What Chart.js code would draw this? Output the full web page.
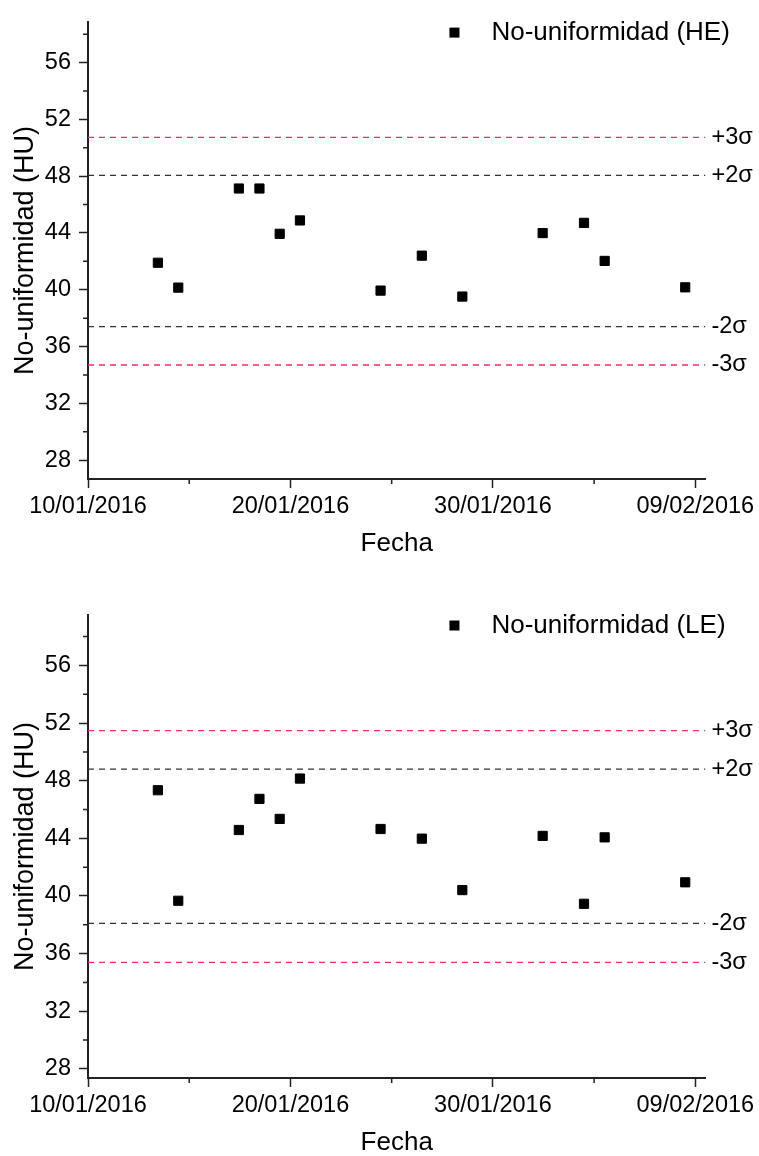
<!DOCTYPE html>
<html lang="es">
<head>
  <meta charset="UTF-8" />
  <title>No-uniformidad</title>
  <style>
    body { margin: 0; background: #fff; }
    .panel { position: relative; width: 759px; height: 578px; }
  </style>
</head>
<body>
  <div class="panel"><canvas id="chartHE"></canvas></div>
  <div class="panel"><canvas id="chartLE"></canvas></div>

  <script src="https://cdn.jsdelivr.net/npm/chart.js"></script>
  <script>
const fechas = [
  '2016-01-13T10:50', '2016-01-14T11:00', '2016-01-17T10:50', '2016-01-18T11:15',
  '2016-01-19T11:15', '2016-01-20T11:15', '2016-01-24T10:50', '2016-01-26T11:45',
  '2016-01-28T11:45', '2016-02-01T11:00', '2016-02-03T12:00', '2016-02-04T12:30',
  '2016-02-08T12:00'
];
const valoresHE = [41.9, 40.15, 47.13, 47.13, 43.94, 44.88, 39.94, 42.4, 39.52, 43.99, 44.71, 42.03, 40.17];
const valoresLE = [47.34, 39.67, 44.58, 46.74, 45.35, 48.15, 44.65, 43.98, 40.41, 44.17, 39.46, 44.07, 40.95];

// control limits: +3s, +2s, -2s, -3s
const limitesHE = [50.73, 48.05, 37.4, 34.7];
const limitesLE = [51.48, 48.8, 38.1, 35.39];
const sigmaLabels = ['+3\u03c3', '+2\u03c3', '-2\u03c3', '-3\u03c3'];
const sigmaColors = ['#ff2a62', '#333333', '#333333', '#ff2a62'];

const xTickLabels = ['10/01/2016', '20/01/2016', '30/01/2016', '09/02/2016'];
const yTickLabels = [28, 32, 36, 40, 44, 48, 52, 56];
const xMinorLabels = ['15/01/2016', '25/01/2016', '04/02/2016'];
const yMinorLabels = [30, 34, 38, 42, 46, 50, 54, 58];

const FONT = '"Liberation Sans", Arial, sans-serif';
const T0 = Date.UTC(2016, 0, 10);
const DAY = 86400000;

function isoToDays(s) {
  return (new Date(s + ':00Z').getTime() - T0) / DAY;
}
function labelToDays(s) {
  const [d, m, y] = s.split('/').map(Number);
  return (Date.UTC(y, m - 1, d) - T0) / DAY;
}
function daysToLabel(v) {
  const d = new Date(T0 + v * DAY);
  const p = n => String(n).padStart(2, '0');
  return p(d.getUTCDate()) + '/' + p(d.getUTCMonth() + 1) + '/' + d.getUTCFullYear();
}

const X_MAX = 30.5;

Chart.defaults.color = '#000';
Chart.defaults.font.family = FONT;

const extras = {
  id: 'extras',
  afterDraw(chart, args, opts) {
    const {ctx, chartArea: a, scales: {x, y}} = chart;
    ctx.save();
    // minor ticks
    ctx.strokeStyle = '#222';
    ctx.lineWidth = 1.5;
    ctx.beginPath();
    xMinorLabels.map(labelToDays).forEach(d => {
      const px = x.getPixelForValue(d);
      ctx.moveTo(px, a.bottom);
      ctx.lineTo(px, a.bottom + 5);
    });
    yMinorLabels.forEach(v => {
      if (v < y.min || v > y.max) return;
      const py = y.getPixelForValue(v);
      ctx.moveTo(a.left, py);
      ctx.lineTo(a.left - 5, py);
    });
    ctx.stroke();

    // sigma labels
    ctx.fillStyle = '#000';
    ctx.font = '23.5px ' + FONT;
    ctx.textAlign = 'left';
    ctx.textBaseline = 'middle';
    opts.limits.forEach((v, i) => {
      ctx.fillText(sigmaLabels[i], a.right + 6, y.getPixelForValue(v));
    });

    // legend
    const ly = a.top + 10.5;
    ctx.fillRect(a.right - 256, ly - 5, 10, 10);
    ctx.font = '26px ' + FONT;
    ctx.fillText(opts.legend, a.right - 214, ly);
    ctx.restore();
  }
};

function makeChart(id, values, limits, legend, yMin, yMax, padTop, padBottom) {
  const xs = fechas.map(isoToDays);
  const limitSets = limits.map((v, i) => ({
    type: 'line',
    data: [{x: 0, y: v}, {x: X_MAX, y: v}],
    borderColor: sigmaColors[i],
    borderWidth: 1.3,
    borderDash: [6, 5],
    pointRadius: 0,
    order: 2
  }));
  return new Chart(document.getElementById(id), {
    type: 'scatter',
    data: {
      datasets: [
        {
          label: legend,
          data: values.map((v, i) => ({x: xs[i], y: v})),
          pointStyle: 'rect',
          pointRadius: 6.5,
          backgroundColor: '#000',
          borderColor: '#000',
          borderWidth: 1,
          order: 1
        },
        ...limitSets
      ]
    },
    options: {
      responsive: true,
      maintainAspectRatio: false,
      animation: false,
      layout: { padding: { left: 12, right: 52, top: padTop, bottom: padBottom } },
      plugins: {
        legend: { display: false },
        tooltip: { enabled: false },
        extras: { limits: limits, legend: legend }
      },
      scales: {
        x: {
          type: 'linear',
          min: 0,
          max: X_MAX,
          afterBuildTicks: s => { s.ticks = xTickLabels.map(t => ({value: labelToDays(t)})); },
          afterFit: s => { s.height = 78; },
          ticks: {
            font: { size: 23.5 },
            padding: 4,
            maxRotation: 0,
            autoSkip: false,
            callback: v => daysToLabel(v)
          },
          grid: { drawOnChartArea: false, drawTicks: true, tickLength: 9, tickColor: '#222', tickWidth: 1.5 },
          border: { display: true, color: '#222', width: 2 },
          title: { display: true, text: 'Fecha', font: { size: 26, lineHeight: 1 }, padding: 0 }
        },
        y: {
          min: yMin,
          max: yMax,
          afterBuildTicks: s => { s.ticks = yTickLabels.map(v => ({value: v})); },
          afterFit: s => { s.width = 76; },
          ticks: { font: { size: 23.5 }, padding: 8 },
          grid: { drawOnChartArea: false, drawTicks: true, tickLength: 9, tickColor: '#222', tickWidth: 1.5 },
          border: { display: true, color: '#222', width: 2 },
          title: { display: true, text: 'No-uniformidad (HU)', font: { size: 27, lineHeight: 1 }, padding: 0 }
        }
      }
    },
    plugins: [extras]
  });
}

makeChart('chartHE', valoresHE, limitesHE, 'No-uniformidad (HE)', 26.67, 58.85, 18, 21);
makeChart('chartLE', valoresLE, limitesLE, 'No-uniformidad (LE)', 27.37, 59.5, 37, 0);
  </script>
</body>
</html>
